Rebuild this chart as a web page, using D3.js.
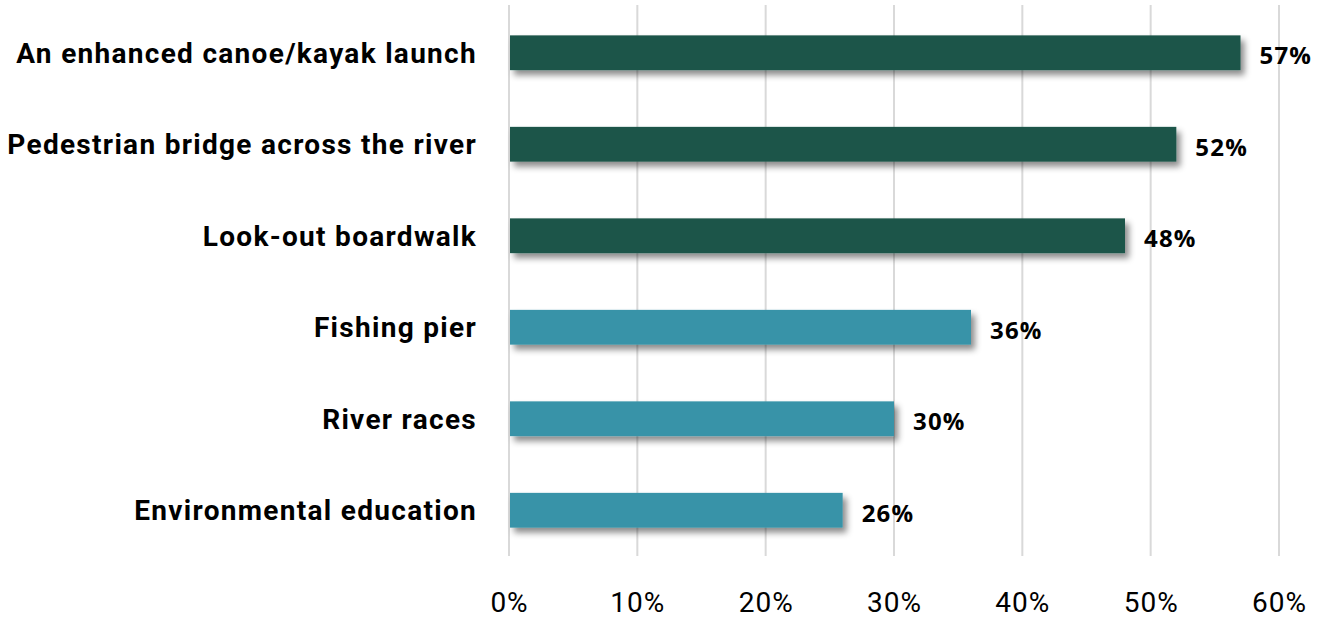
<!DOCTYPE html>
<html>
<head>
<meta charset="utf-8">
<script src="https://cdn.jsdelivr.net/npm/d3@7"></script>
<style>
  html, body { margin: 0; padding: 0; background: #fff; }
  svg { display: block; }
</style>
</head>
<body>
<svg id="chart" width="1333" height="618"></svg>
<script>
// Survey results: share of respondents supporting each river amenity
const categories = [
  "An enhanced canoe/kayak launch",
  "Pedestrian bridge across the river",
  "Look-out boardwalk",
  "Fishing pier",
  "River races",
  "Environmental education"
];
const values = [0.57, 0.52, 0.48, 0.36, 0.30, 0.26];
const groups = ["top", "top", "top", "other", "other", "other"];
const tickValues = [0, 0.1, 0.2, 0.3, 0.4, 0.5, 0.6];

const colors = { top: "#1c5548", other: "#3893a8" };

const svg = d3.select("#chart");
const plotLeft = 509, plotRight = 1279, plotTop = 7, plotBottom = 556;

const x = d3.scaleLinear().domain([0, 0.6]).range([plotLeft, plotRight]);
const y = d3.scaleBand().domain(categories).range([plotTop, plotBottom]).paddingInner(0.62).paddingOuter(0.31);

// drop shadow for bars
const defs = svg.append("defs");
const f = defs.append("filter").attr("id", "shadow")
  .attr("x", "-5%").attr("y", "-30%").attr("width", "115%").attr("height", "180%");
f.append("feDropShadow").attr("dx", 4).attr("dy", 5).attr("stdDeviation", 3)
  .attr("flood-color", "#000").attr("flood-opacity", 0.45);

// vertical gridlines
svg.append("g").selectAll("line").data(tickValues).join("line")
  .attr("x1", d => x(d)).attr("x2", d => x(d))
  .attr("y1", 5).attr("y2", 556)
  .attr("stroke", "#d9d9d9").attr("stroke-width", 2);

// bars
svg.append("g").selectAll("rect").data(categories).join("rect")
  .attr("x", x(0) + 1)
  .attr("y", d => y(d))
  .attr("width", (d, i) => x(values[i]) - x(0) - 1)
  .attr("height", y.bandwidth())
  .attr("fill", (d, i) => colors[groups[i]])
  .attr("filter", "url(#shadow)");

// category labels
svg.append("g").selectAll("text").data(categories).join("text")
  .attr("x", 477)
  .attr("y", d => y(d) + y.bandwidth() / 2)
  .attr("dy", "0.35em")
  .attr("text-anchor", "end")
  .attr("font-family", "Roboto, sans-serif")
  .attr("font-weight", 700)
  .attr("font-size", 28)
  .attr("letter-spacing", 1.3)
  .attr("fill", "#000")
  .text(d => d);

// value labels
const pct = d3.format(".0%");
svg.append("g").selectAll("text").data(categories).join("text")
  .attr("x", (d, i) => x(values[i]) + 19)
  .attr("y", d => y(d) + y.bandwidth() / 2 + 3)
  .attr("dy", "0.35em")
  .attr("font-family", "'Open Sans', sans-serif")
  .attr("font-weight", 700)
  .attr("font-size", 24)
  .attr("letter-spacing", 1.2)
  .attr("fill", "#000")
  .text((d, i) => pct(values[i]));

// x axis tick labels
const axis = d3.axisBottom(x).tickValues(tickValues).tickFormat(d3.format(".0%")).tickSize(0).tickPadding(0);
const ag = svg.append("g").attr("transform", "translate(0, 612)").call(axis);
ag.select(".domain").remove();
ag.selectAll("text")
  .attr("y", 0).attr("dy", 0)
  .attr("font-family", "Roboto, sans-serif")
  .attr("font-size", 28)
  .attr("letter-spacing", 1)
  .attr("fill", "#000");
</script>
</body>
</html>
